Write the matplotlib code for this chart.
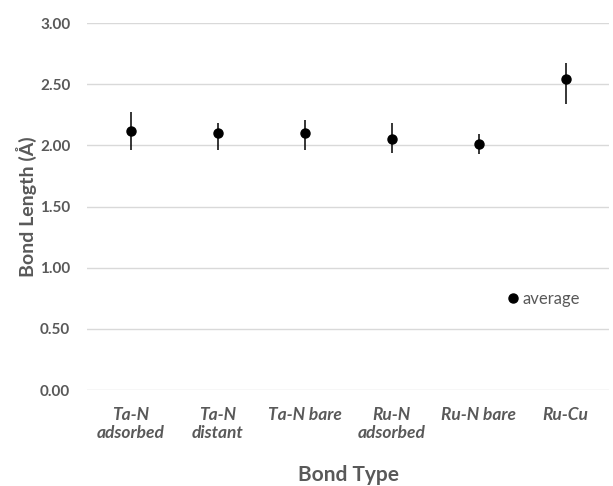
import matplotlib.pyplot as plt
from matplotlib.lines import Line2D
import numpy as np

# bond types and average lengths
bond_types = ['Ta-N\nadsorbed', 'Ta-N\ndistant', 'Ta-N bare', 'Ru-N\nadsorbed', 'Ru-N bare', 'Ru-Cu']
avg_length = [2.12, 2.10, 2.10, 2.05, 2.01, 2.54]
err_low = [0.16, 0.14, 0.14, 0.11, 0.08, 0.20]
err_high = [0.15, 0.08, 0.11, 0.13, 0.08, 0.13]
y_ticks = [0.0, 0.5, 1.0, 1.5, 2.0, 2.5, 3.0]

gray = '#595959'
plt.rcParams['font.family'] = ['Lato', 'DejaVu Sans']

fig = plt.figure(figsize=(6.13, 4.86), dpi=100)
ax = fig.add_axes([87 / 613, 96 / 486, 522 / 613, 367 / 486])

x = np.arange(len(bond_types))
ax.errorbar(x, avg_length, yerr=[err_low, err_high], fmt='o', color='black',
            ecolor='black', elinewidth=1.1, markersize=6.5, capsize=0)

ax.set_xlim(-0.5, len(bond_types) - 0.5)
ax.set_ylim(0, 3.0)
ax.set_yticks(y_ticks)
ax.set_yticklabels(['%.2f' % v for v in y_ticks], fontsize=11, fontweight='bold', color=gray)
ax.set_xticks(x)
ax.set_xticklabels(bond_types, fontsize=12.5, fontweight='bold', fontstyle='italic',
                   color=gray, linespacing=1.2, va='top')
ax.tick_params(axis='both', length=0)
ax.tick_params(axis='y', pad=12)
ax.tick_params(axis='x', pad=12)
ax.grid(axis='y', color='#d9d9d9', linewidth=1)
ax.set_axisbelow(True)
for s in ax.spines.values():
    s.set_visible(False)

ax.set_ylabel('Bond Length (Å)', fontsize=14, fontweight='bold', color=gray, labelpad=2)
ax.set_xlabel('Bond Type', fontsize=15, fontweight='bold', color=gray, labelpad=17)

handle = Line2D([], [], marker='o', linestyle='none', color='black', markersize=6.5)
leg = ax.legend([handle], ['average'], loc='center left',
                bbox_to_anchor=(496 / 613, 1 - 299 / 486),
                bbox_transform=fig.transFigure, frameon=False, fontsize=12,
                handletextpad=0.1, handlelength=1.0, borderpad=0)
for t in leg.get_texts():
    t.set_color(gray)

fig.savefig('out.png', dpi=100)
